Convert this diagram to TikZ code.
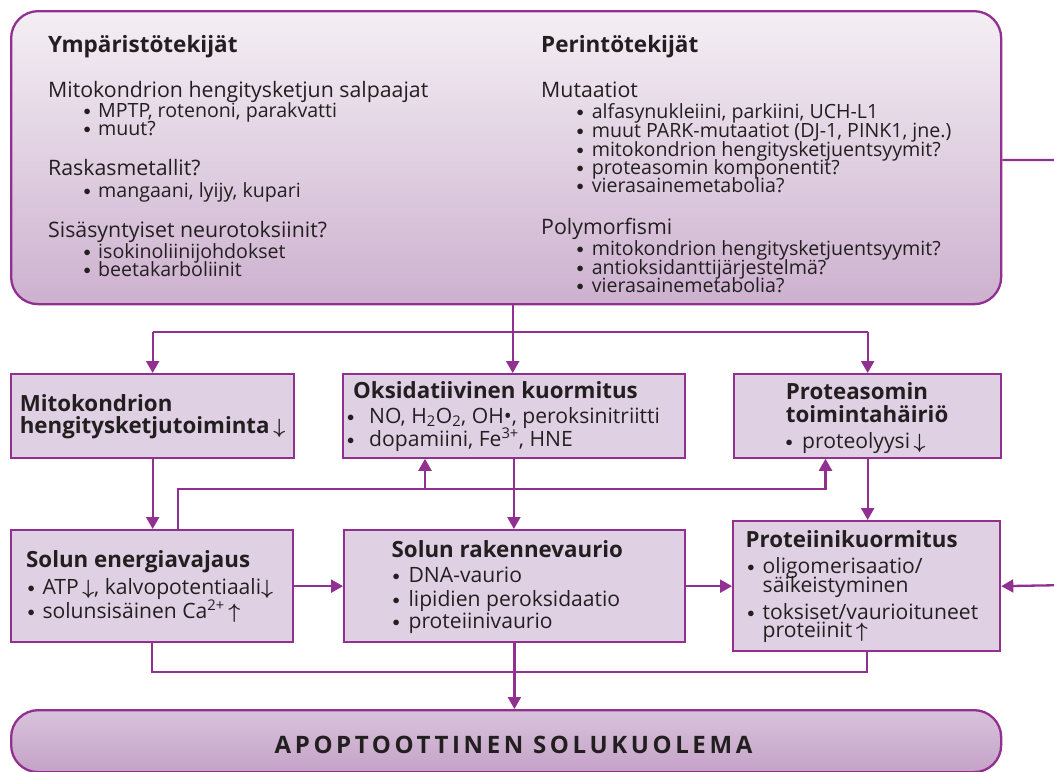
\documentclass[tikz,border=0pt]{standalone}
\usepackage{fontspec}
\setmainfont{Open Sans}
\usetikzlibrary{arrows.meta}
\definecolor{pur}{HTML}{923092}
\definecolor{boxfill}{HTML}{E0D0E4}
\definecolor{toptop}{HTML}{F4EFF4}
\definecolor{topbot}{HTML}{CDB1CF}
\definecolor{fintop}{HTML}{D8C3DB}
\definecolor{finbot}{HTML}{C5A2C8}
\definecolor{ink}{HTML}{231F20}
\newcommand\bu[1]{\makebox[#1][l]{\hspace{1.9pt}\raisebox{1.9pt}{$\scriptstyle\bullet$}}}
\newcommand\dn{{\boldmath$\downarrow$}}
\newcommand\up{{\boldmath$\uparrow$}}
\begin{document}
\begin{tikzpicture}[x=1pt,y=-1pt,
  line/.style={draw=pur, line width=2.3pt},
  arr/.style={line, -{Triangle[length=12pt,width=13pt]}},
  bigbox/.style={draw=pur, line width=2.3pt, rounded corners=27pt, top color=toptop, bottom color=topbot, anchor=north west, inner sep=0pt},
  finbox/.style={draw=pur, line width=2.3pt, rounded corners=27pt, top color=fintop, bottom color=finbot, anchor=north west, inner sep=0pt},
  box/.style={draw=pur, line width=2.3pt, fill=boxfill, anchor=north west, inner sep=0pt},
  tx/.style={anchor=base west, inner sep=0pt, text=ink, font=\fontsize{19.6}{19.6}\selectfont},
  sh/.style={tx, font=\fontsize{21.3}{21.3}\selectfont},
  bx/.style={tx, font=\fontsize{21.1}{21.1}\selectfont},
  hd/.style={tx, font=\fontsize{22.5}{22.5}\selectfont\bfseries},
  bt/.style={tx, font=\fontsize{22.3}{22.3}\selectfont\bfseries}]
\useasboundingbox (0,0) rectangle (1054,771);
\clip (0,0) rectangle (1054,771);

% boxes
\node[bigbox, minimum width=990pt, minimum height=293pt] (top) at (10,10) {};
\node[box, minimum width=283pt, minimum height=83.5pt] (mito) at (10,373) {};
\node[box, minimum width=341.5pt, minimum height=83.5pt] (oks) at (342,373) {};
\node[box, minimum width=267pt, minimum height=83.5pt] (protea) at (733,373) {};
\node[box, minimum width=282pt, minimum height=112pt] (ener) at (10,529) {};
\node[box, minimum width=340.5pt, minimum height=112pt] (rak) at (343,529) {};
\node[box, minimum width=267pt, minimum height=130pt] (protk) at (732,520) {};
\node[finbox, minimum width=990pt, minimum height=62pt] (fin) at (10,709) {};

% connectors
\coordinate (sp) at (512.7,332);
\coordinate (fb) at (178,489);
\coordinate (fbO) at (425,489);
\coordinate (fbR) at (825.5,489);
\coordinate (bj) at (152,672);
\coordinate (extA) at (1070,160);
\coordinate (extB) at (1070,585);

\draw[arr] (top.south -| sp) -- (sp |- oks.north);
\draw[line] (mito.north |- sp) -- (protea.north |- sp);
\draw[arr] (mito.north |- sp) -- (mito.north);
\draw[arr] (protea.north |- sp) -- (protea.north);

\draw[arr] (mito.south) -- (mito.south |- ener.north);
\draw[arr] (oks.south) -- (oks.south |- rak.north);
\draw[arr] (protea.south) -- (protea.south |- protk.north);

\draw[arr] (fb |- ener.north) -- (fb) -- (fbR) -- (fbR |- protea.south);
\draw[arr] (fbO) -- (fbO |- oks.south);

\draw[arr] (ener.east) -- (rak.west);
\draw[arr] (rak.east) -- (protk.west);
\draw[arr] (top.east |- extA) -- (extA) -- (extB) -- (protk.east);

\draw[line] (ener.south) -- (ener.south |- bj) -- (bj -| protk.south) -- (protk.south);
\draw[arr] (rak.south) -- (rak.south |- fin.north);

% top box text
\node[hd] (h1) at (48,52) {Ympäristötekijät};
\node[sh] (a1) at (48,97) {Mitokondrion hengitysketjun salpaajat};
\node[tx] (a2) at (81.6,117) {\bu{16.4pt}MPTP, rotenoni, parakvatti};
\node[tx] (a3) at (81.6,135.5) {\bu{16.4pt}muut?};
\node[sh] (a4) at (48,175) {Raskasmetallit?};
\node[tx] (a5) at (81.6,197) {\bu{16.4pt}mangaani, lyijy, kupari};
\node[sh] (a6) at (48,237) {Sisäsyntyiset neurotoksiinit?};
\node[tx] (a7) at (81.6,258) {\bu{16.4pt}isokinoliinijohdokset};
\node[tx] (a8) at (81.6,276.5) {\bu{16.4pt}beetakarboliinit};

\node[hd] (h2) at (541,52) {Perintötekijät};
\node[sh] (b1) at (541,97) {Mutaatiot};
\node[tx] (b2) at (574.6,118) {\bu{17pt}alfasynukleiini, parkiini, UCH-L1};
\node[tx] (b3) at (574.6,137) {\bu{17pt}muut PARK-mutaatiot (DJ-1, PINK1, jne.)};
\node[tx] (b4) at (574.6,156) {\bu{17pt}mitokondrion hengitysketjuentsyymit?};
\node[tx] (b5) at (574.6,174) {\bu{17pt}proteasomin komponentit?};
\node[tx] (b6) at (574.6,192.5) {\bu{17pt}vierasainemetabolia?};
\node[sh] (b7) at (541,234.5) {Polymorfismi};
\node[tx] (b8) at (574.6,255.5) {\bu{17pt}mitokondrion hengitysketjuentsyymit?};
\node[tx] (b9) at (574.6,274) {\bu{17pt}antioksidanttijärjestelmä?};
\node[tx] (b10) at (574.6,292) {\bu{17pt}vierasainemetabolia?};

% middle row text
\node[bt] (m1) at (19.6,411) {Mitokondrion};
\node[bt] (m2) at (19.6,433.5) {hengitysketjutoiminta\,{\mdseries\dn}};
\node[bt] (o1) at (353,398) {Oksidatiivinen kuormitus};
\node[bx] (o2) at (345,423) {\bu{24pt}NO, H\textsubscript{2}O\textsubscript{2}, OH\textbullet, peroksinitriitti};
\node[bx] (o3) at (345,446) {\bu{24pt}dopamiini, Fe\textsuperscript{3+}, HNE};
\node[bt] (p1) at (785.7,399.5) {Proteasomin};
\node[bt] (p2) at (785.7,422) {toimintahäiriö};
\node[bx] (p3) at (783.6,448) {\bu{18.4pt}proteolyysi\,\dn};

% bottom row text
\node[bt] (e1) at (26,567.6) {Solun energiavajaus};
\node[bx] (e2) at (25.6,594) {\bu{16.7pt}ATP\,\dn, kalvopotentiaali\dn};
\node[bx] (e3) at (25.6,618) {\bu{16.7pt}solunsisäinen Ca\textsuperscript{2+}\,\up};
\node[bt] (r1) at (391.5,557) {Solun rakennevaurio};
\node[bx] (r2) at (390.6,582) {\bu{17.8pt}DNA-vaurio};
\node[bx] (r3) at (390.6,606.5) {\bu{17.8pt}lipidien peroksidaatio};
\node[bx] (r4) at (390.6,628.5) {\bu{17.8pt}proteiinivaurio};
\node[bt] (k1) at (745.5,547) {Proteiinikuormitus};
\node[bx] (k2) at (745.2,573) {\bu{17.3pt}oligomerisaatio/};
\node[bx] (k3) at (762.5,592.6) {säikeistyminen};
\node[bx] (k4) at (745.2,619) {\bu{17.3pt}toksiset/vaurioituneet};
\node[bx] (k5) at (762.5,637) {proteiinit\,\up};

\node[anchor=base, inner sep=0pt, text=ink, font=\fontsize{24}{24}\selectfont\bfseries\addfontfeatures{LetterSpace=15}] (fl) at (513.5,753.5) {APOPTOOTTINEN SOLUKUOLEMA};
\end{tikzpicture}
\end{document}
